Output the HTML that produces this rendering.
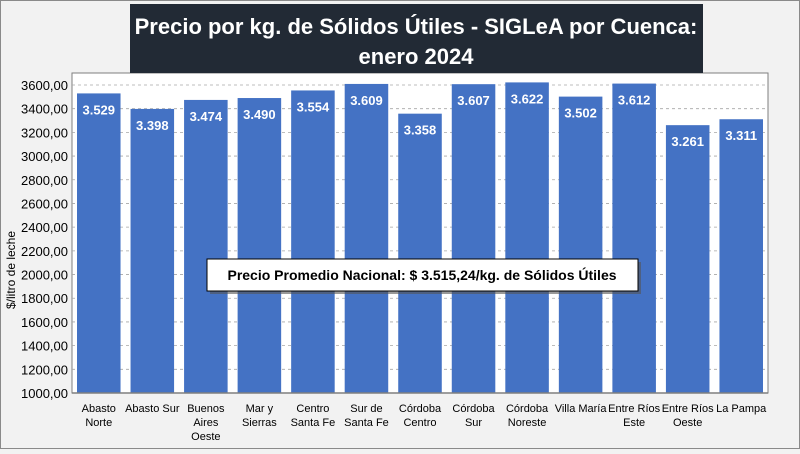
<!DOCTYPE html>
<html><head><meta charset="utf-8"><style>
body{margin:0;width:800px;height:449px;overflow:hidden;background:#f2f2f2;font-family:"Liberation Sans",sans-serif}
</style></head><body>
<svg width="800" height="449" xmlns="http://www.w3.org/2000/svg">
<rect x="0.5" y="0.5" width="799" height="448" fill="#f2f2f2" stroke="#8a8a8a"/>
<g id="plot"></g>
<rect x="130" y="4" width="573" height="69" fill="#222a35"/>
<text x="416" y="34" text-anchor="middle" fill="#fff" font-weight="bold" font-size="22">Precio por kg. de Sólidos Útiles - SIGLeA por Cuenca:</text>
<text x="416" y="64" text-anchor="middle" fill="#fff" font-weight="bold" font-size="22">enero 2024</text>
<text transform="translate(15,270) rotate(-90)" text-anchor="middle" font-size="12" fill="#000">$/litro de leche</text>
<rect x="210" y="262" width="431" height="32" fill="#555" opacity="0.6"/>
<rect x="207" y="259" width="431" height="32" fill="#fff" stroke="#000"/>
<text x="422" y="280" text-anchor="middle" font-size="14" font-weight="bold">Precio Promedio Nacional: $ 3.515,24/kg. de Sólidos Útiles</text>
</svg>
<script>
const categories=[["Abasto","Norte"],["Abasto Sur"],["Buenos","Aires","Oeste"],["Mar y","Sierras"],["Centro","Santa Fe"],["Sur de","Santa Fe"],["Córdoba","Centro"],["Córdoba","Sur"],["Córdoba","Noreste"],["Villa María"],["Entre Ríos","Este"],["Entre Ríos","Oeste"],["La Pampa"]];
const values=[3529,3398,3474,3490,3554,3609,3358,3607,3622,3502,3612,3261,3311];
const valueLabels=["3.529","3.398","3.474","3.490","3.554","3.609","3.358","3.607","3.622","3.502","3.612","3.261","3.311"];
const yTicks=[1000,1200,1400,1600,1800,2000,2200,2400,2600,2800,3000,3200,3400,3600];
const NS="http://www.w3.org/2000/svg";
const g=document.getElementById('plot');
const X0=72,X1=768,Y0=393,Y1=85,TOP=73;
const yS=v=>Y0-(v-1000)/(3600-1000)*(Y0-Y1);
const band=(X1-X0)/categories.length;
const xS=i=>X0+i*band;
function mk(t,a){const e=document.createElementNS(NS,t);for(const k in a)e.setAttribute(k,a[k]);g.appendChild(e);return e;}
let r=mk('rect',{x:X0,y:TOP,width:X1-X0,height:Y0-TOP,fill:'#fff',stroke:'#7f7f7f'});


yTicks.forEach(v=>{
  if(v>1000){let l=mk('line',{x1:X0,x2:X1,y1:yS(v),y2:yS(v),stroke:'#a6a6a6','stroke-dasharray':'3,3','stroke-width':0.8});
  
  }
  let t=mk('text',{x:X0-4,y:yS(v)+5,'text-anchor':'end','font-size':13,fill:'#000'});
  t.textContent=v+',00';
  
  
});
values.forEach((v,i)=>{
  const bx=xS(i)+5,bw=band-10;
  let b=mk('rect',{x:bx,y:yS(v),width:bw,height:Y0-yS(v),fill:'#4472c4'});
  
  
  let t=mk('text',{x:bx+bw/2,y:yS(v)+21,'text-anchor':'middle','font-size':13,'font-weight':'bold',fill:'#fff'});
  t.textContent=valueLabels[i];
  
  
  categories[i].forEach((line,j)=>{
    let c=mk('text',{x:bx+bw/2,y:412+j*14,'text-anchor':'middle','font-size':11,fill:'#000'});
    c.textContent=line;
    
    
  });
});
let ax=mk('line',{x1:X0,x2:X1,y1:Y0,y2:Y0,stroke:'#7f7f7f','stroke-width':1.5});


</script>
</body></html>
